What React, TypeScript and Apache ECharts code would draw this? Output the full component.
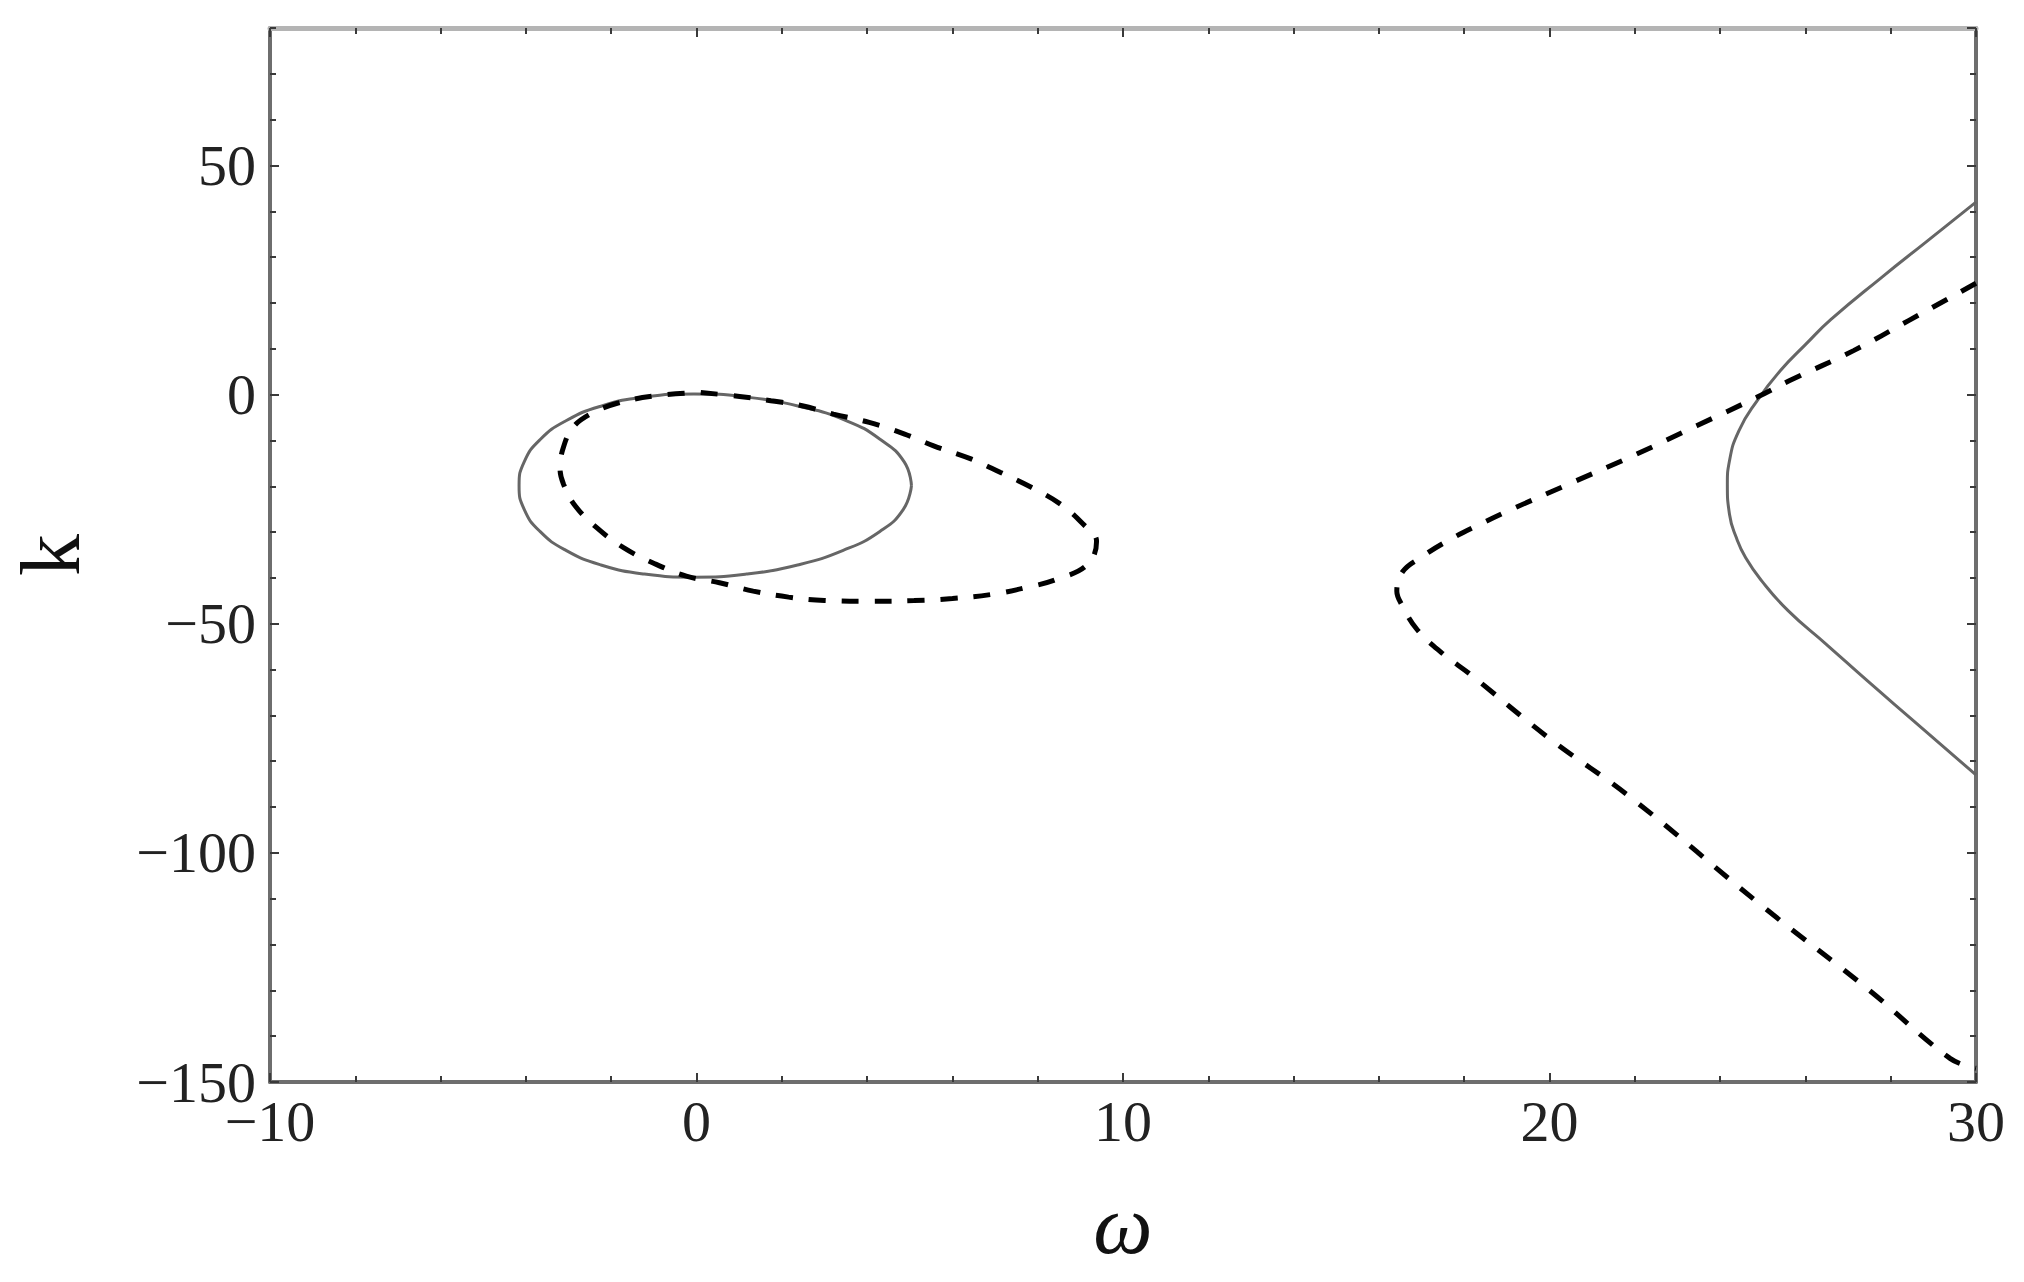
import React, { useEffect, useRef } from "react";
import * as echarts from "echarts";

// Axis ranges and ticks
const X_MIN = -10;
const X_MAX = 30;
const X_STEP = 10;
const Y_MIN = -150;
const Y_MAX = 80;
const Y_STEP = 50;
const Y_MINOR_STEP = 10;

const X_NAME = "ω";
const Y_NAME = "k";

// Solid closed curve (left loop)
const solidLoop: [number, number][] = [
  [5.04, -19.85], [4.87, -14.67], [4.32, -9.85], [3.52, -5.71], [2.4, -2.53], [1.16, -0.53],
  [-0.06, 0.15], [-1.22, -0.53], [-2.24, -2.53], [-3.06, -5.71], [-3.67, -9.85], [-4.04, -14.67],
  [-4.16, -19.85], [-4.04, -25.03], [-3.67, -29.85], [-3.06, -33.99], [-2.24, -37.17],
  [-1.22, -39.17], [-0.06, -39.85], [1.16, -39.17], [2.37, -37.17], [3.44, -33.99],
  [4.3, -29.85], [4.85, -25.03], [5.04, -19.85],
];

// Dashed closed curve (left loop)
const dashedLoop: [number, number][] = [
  [0.1, 0.45], [1.01, -0.4], [1.74, -1.33], [2.48, -2.43], [3.21, -4.25],
  [4.05, -6.07], [4.88, -8.62], [5.56, -11.17], [6.45, -14.09], [7.13, -17.0],
  [7.86, -20.28], [8.54, -23.93], [9.07, -28.3], [9.38, -32.0], [9.17, -37.05],
  [8.44, -40.33], [7.71, -42.15], [6.92, -43.6], [6.0, -44.5], [5.1, -44.95],
  [4.1, -45.1], [3.0, -44.92], [2.16, -44.19], [1.33, -42.88],
  [0.54, -41.05], [-0.24, -39.6], [-1.03, -36.68], [-1.71, -33.4], [-2.34, -29.03],
  [-2.85, -24.2], [-3.12, -19.5], [-3.2, -16.0], [-3.12, -11.5], [-2.9, -7.2],
  [-2.5, -4.3], [-1.9, -2.0], [-1.0, -0.3], [0.1, 0.45],
];

// Solid open curve (right)
const solidRight: [number, number][] = [
  [30, 42.0], [28.87, 33.6], [27.79, 25.6], [26.6, 16.4], [26.0, 10.9], [25.41, 5.2],
  [24.87, -1.3], [24.44, -7.9], [24.22, -14.45], [24.17, -19.55], [24.22, -26.1],
  [24.38, -31.2], [24.6, -35.6], [24.98, -40.7], [25.6, -47.2], [26.49, -54.5],
  [27.47, -62.6], [28.55, -71.3], [30, -83.0],
];

// Dashed open curve (right)
const dashedRight: [number, number][] = [
  [30, 24.3], [28.43, 16.2], [27.13, 9.6], [25.62, 3.0], [24.86, -0.6], [23.45, -6.8],
  [22.04, -13.0], [20.53, -19.2], [19.12, -25.0], [18.37, -28.3], [17.67, -31.6],
  [16.97, -35.6], [16.56, -38.6], [16.42, -42.9], [16.54, -45.9], [16.89, -51.2],
  [17.48, -56.4], [18.15, -61.1], [19.98, -74.9], [21.93, -88.1], [24.96, -111.4],
  [27.5, -130.0], [29.4, -144.9], [30, -147.0],
];

const SERIF = "'Liberation Serif', 'Times New Roman', serif";
const FRAME = "#6e6e6e";
const FRAME_TOP = "#b4b4b4";
const TICK = "#3a3a3a";

const fmt = (v: number) => String(v).replace("-", "\u2212");

export default function App() {
  const ref = useRef<HTMLDivElement>(null);

  useEffect(() => {
    if (!ref.current) return;
    const chart = echarts.init(ref.current, undefined, { renderer: "svg" });

    const labelStyle = { fontFamily: SERIF, fontSize: 58, color: "#222", formatter: fmt };

    const baseX = (position: "bottom" | "top", showLabel: boolean, lineColor: string, lineWidth: number) => ({
      type: "value",
      position,
      min: X_MIN,
      max: X_MAX,
      interval: X_STEP,
      axisLine: { show: true, onZero: false, lineStyle: { color: lineColor, width: lineWidth } },
      axisTick: { show: true, inside: true, length: 9, lineStyle: { color: TICK, width: 2 } },
      minorTick: { show: true, splitNumber: 5, length: 6, lineStyle: { color: TICK, width: 2 } },
      axisLabel: showLabel ? { ...labelStyle, margin: 10 } : { show: false },
      splitLine: { show: false },
      minorSplitLine: { show: false },
    });

    const minorY = (position: "left" | "right") => ({
      type: "value",
      position,
      min: Y_MIN,
      max: Y_MAX,
      interval: Y_MINOR_STEP,
      axisLine: { show: false, onZero: false },
      axisTick: { show: true, inside: true, length: 6, lineStyle: { color: TICK, width: 2 } },
      axisLabel: { show: false },
      splitLine: { show: false },
    });

    const option: any = {
      animation: false,
      backgroundColor: "#ffffff",
      grid: { left: 269, right: 48, top: 28, bottom: 200, containLabel: false },
      xAxis: [
        {
          ...baseX("bottom", true, FRAME, 4),
          name: X_NAME,
          nameLocation: "middle",
          nameGap: 100,
          nameTextStyle: { fontFamily: SERIF, fontStyle: "italic", fontSize: 84, color: "#111" },
        },
        baseX("top", false, FRAME_TOP, 5),
      ],
      yAxis: [
        {
          type: "value",
          position: "left",
          min: Y_MIN,
          max: Y_MAX,
          interval: Y_STEP,
          axisLine: { show: true, onZero: false, lineStyle: { color: FRAME, width: 4 } },
          axisTick: { show: true, inside: true, length: 9, lineStyle: { color: TICK, width: 2 } },
          axisLabel: { ...labelStyle, lineHeight: 18, margin: 14, showMaxLabel: false },
          splitLine: { show: false },
          name: Y_NAME,
          nameLocation: "middle",
          nameGap: 178,
          nameRotate: 90,
          nameTextStyle: { fontFamily: SERIF, fontSize: 84, color: "#111" },
        },
        {
          type: "value",
          position: "right",
          min: Y_MIN,
          max: Y_MAX,
          interval: Y_STEP,
          axisLine: { show: true, onZero: false, lineStyle: { color: FRAME, width: 4 } },
          axisTick: { show: true, inside: true, length: 9, lineStyle: { color: TICK, width: 2 } },
          axisLabel: { show: false },
          splitLine: { show: false },
        },
        minorY("left"),
        minorY("right"),
      ],
      series: [
        {
          type: "line",
          data: solidLoop,
          xAxisIndex: 0,
          yAxisIndex: 0,
          showSymbol: false,
          smooth: 0.5,
          silent: true,
          lineStyle: { color: "#666666", width: 3 },
        },
        {
          type: "line",
          data: dashedLoop,
          xAxisIndex: 0,
          yAxisIndex: 0,
          showSymbol: false,
          smooth: 0.4,
          silent: true,
          lineStyle: { color: "#000000", width: 5, type: [17, 16] },
        },
        {
          type: "line",
          data: solidRight,
          xAxisIndex: 0,
          yAxisIndex: 0,
          showSymbol: false,
          smooth: 0.5,
          silent: true,
          lineStyle: { color: "#666666", width: 3 },
        },
        {
          type: "line",
          data: dashedRight,
          xAxisIndex: 0,
          yAxisIndex: 0,
          showSymbol: false,
          smooth: 0.4,
          silent: true,
          lineStyle: { color: "#000000", width: 5, type: [17, 16] },
        },
      ],
    };

    chart.setOption(option);
    return () => chart.dispose();
  }, []);

  return (
    <div
      ref={ref}
      style={{ position: "absolute", left: 0, top: 0, width: 2024, height: 1282, background: "#fff" }}
    />
  );
}
